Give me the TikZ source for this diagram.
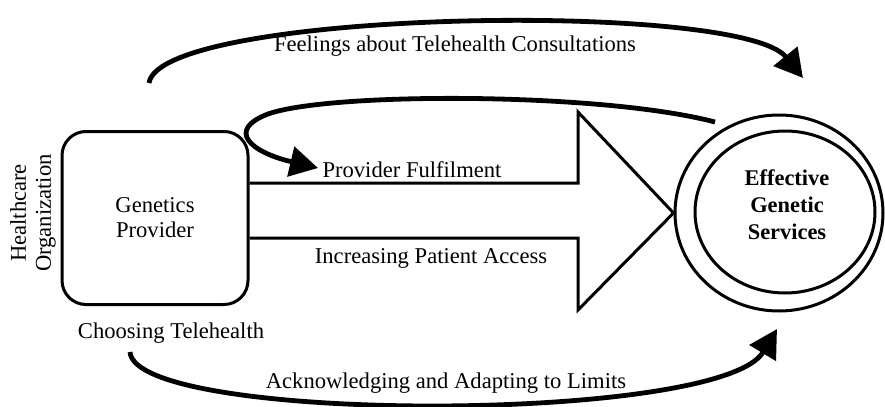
\documentclass[tikz,border=0pt]{standalone}
\usepackage{fontspec}
\setmainfont{Liberation Serif}
\usetikzlibrary{arrows.meta,shapes.geometric}

\begin{document}
\begin{tikzpicture}[x=0.5pt,y=-0.5pt,
    font=\fontsize{11.3}{12.5}\selectfont,
    provbox/.style={draw,line width=1.5pt,rounded corners=12pt,minimum width=93pt,minimum height=86.5pt,align=center},
    ring/.style={draw,ellipse,line width=1.5pt,inner sep=0pt},
    bigarrow/.style={draw,line width=1.5pt,line join=miter},
    flow/.style={line width=2.4pt,-{Triangle[length=14pt,width=15pt]}},
    lbl/.style={inner sep=0pt}]
\useasboundingbox (0,0) rectangle (885,407);

% provider box and the goal
\node[provbox] (prov) at (155,218) {Genetics\\Provider};
\node[ring,minimum width=104pt,minimum height=98pt] (goal) at (779,213) {};
\node[ring,minimum width=90pt,minimum height=81pt] (goalin) at (785,212) {};
\node[lbl,align=center,font=\bfseries\fontsize{11.2}{13.5}\selectfont] (goaltxt) at (787,205) {Effective\\Genetic\\Services};

% side labels
\node[lbl,rotate=90,align=center] (org) at (33,213) {Healthcare\\Organization};
\node[lbl] (choose) at (171,333) {Choosing Telehealth};

% big arrow from the box into the goal
\draw[bigarrow] (prov.east |- 0,183) -- (578,183) -- (578,112) -- (goal.west)
    -- (578,310) -- (578,238) -- (prov.east |- 0,238);
\node[lbl] (fulfil) at (412,170) {Provider Fulfilment};
\node[lbl] (access) at (431,258) {Increasing Patient Access};

% curved flows
\coordinate (feelS) at (149,83);
\coordinate (feelE) at (803,78);
\coordinate (loopS) at (715,122);
\coordinate (loopE) at (318,168);
\coordinate (limS) at (130,352);
\coordinate (limE) at (777,329);

\draw[flow] (feelS) .. controls (160,10) and (740,0) .. (feelE);
\node[lbl] (feel) at (455,46) {Feelings about Telehealth Consultations};

\draw[flow] (loopS) .. controls (600,92) and (330,92) .. (268,114)
    .. controls (226,130) and (250,152) .. (loopE);

\draw[flow] (limS) .. controls (135,424) and (720,424) .. (limE);
\node[lbl] (limits) at (446,383) {Acknowledging and Adapting to Limits};
\end{tikzpicture}
\end{document}
